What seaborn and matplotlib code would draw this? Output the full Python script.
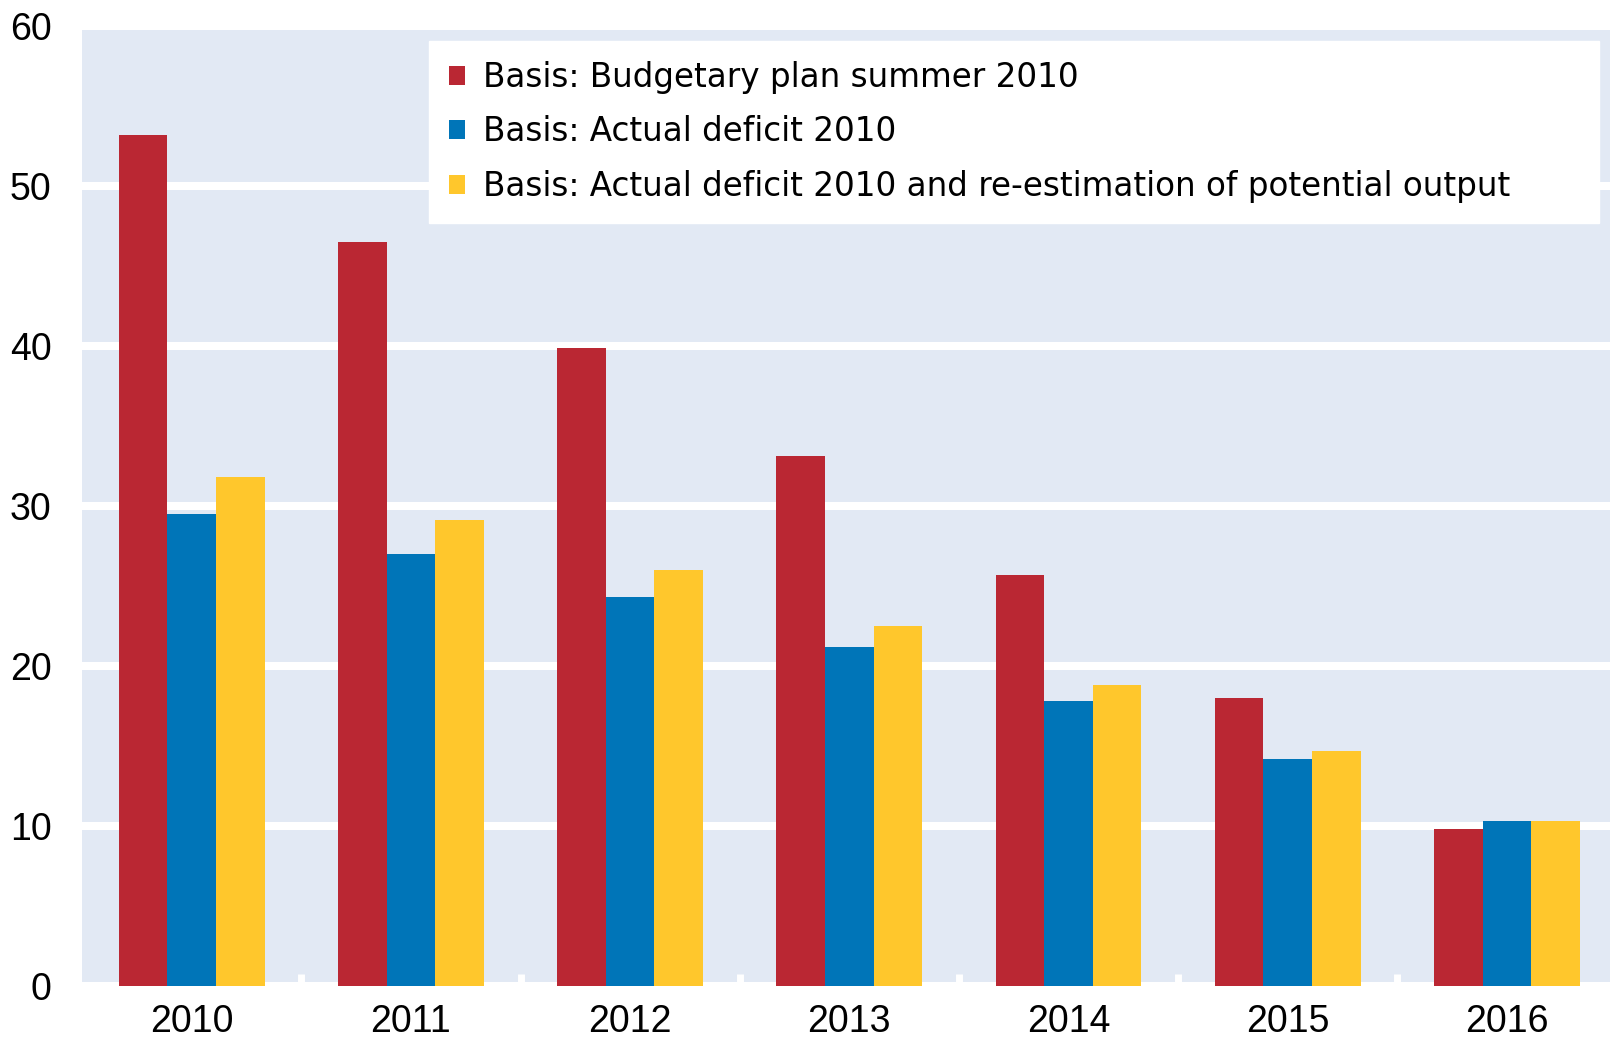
import pandas as pd
import seaborn as sns
import matplotlib.pyplot as plt

years = ["2010", "2011", "2012", "2013", "2014", "2015", "2016"]
series_names = [
    "Basis: Budgetary plan summer 2010",
    "Basis: Actual deficit 2010",
    "Basis: Actual deficit 2010 and re-estimation of potential output",
]
budget_plan = [53.2, 46.5, 39.9, 33.1, 25.7, 18.0, 9.8]
actual_deficit = [29.5, 27.0, 24.3, 21.2, 17.8, 14.2, 10.3]
actual_reestimated = [31.8, 29.1, 26.0, 22.5, 18.8, 14.7, 10.3]
colors = ["#BA2733", "#0075B8", "#FFC72C"]

df = pd.DataFrame({
    "year": years * 3,
    "value": budget_plan + actual_deficit + actual_reestimated,
    "series": [series_names[0]] * 7 + [series_names[1]] * 7 + [series_names[2]] * 7,
})

sns.set_style("white")
plt.rcParams["font.family"] = ["Liberation Sans", "DejaVu Sans"]

fig = plt.figure(figsize=(16.1, 10.38), dpi=100)
ax = fig.add_axes([0.051, 0.05, 0.949, 0.925])
ax.set_facecolor("#E2E9F4")

sns.barplot(data=df, x="year", y="value", hue="series", palette=colors,
            width=0.665, gap=0, linewidth=0, saturation=1, ax=ax, zorder=3)

ax.set_ylim(0, 60)
ax.set_xlim(-0.5, 6.47)
ax.set_yticks(range(0, 61, 10))
ax.grid(axis="y", color="white", linewidth=5.8, zorder=1)
ax.set_axisbelow(True)
for s in ax.spines.values():
    s.set_visible(False)

ax.tick_params(axis="y", left=False, length=0, pad=22, labelsize=27, labelcolor="black")
ax.tick_params(axis="x", which="major", bottom=False, length=0, pad=13, labelsize=27, labelcolor="black")
ax.set_xticks([0.5, 1.5, 2.5, 3.5, 4.5, 5.5], minor=True)
ax.tick_params(axis="x", which="minor", bottom=True, direction="in", length=9, width=5, color="white")
ax.set_xlabel("")
ax.set_ylabel("")

handles, labels = ax.get_legend_handles_labels()
leg = ax.legend(handles, labels, loc="upper left", bbox_to_anchor=(0.227, 0.799, 0.766, 0.185),
                mode="expand", borderaxespad=0, frameon=True, fancybox=False,
                handlelength=0.52, handleheight=0.52, handletextpad=0.55,
                labelspacing=0.66, borderpad=0.6,
                prop={"family": "DejaVu Sans", "size": 23.5})
for t in leg.get_texts():
    t.set_color("black")
leg.get_frame().set_facecolor("white")
leg.get_frame().set_edgecolor("white")
leg.get_frame().set_alpha(1)
leg.set_zorder(5)

fig.savefig("out.png", dpi=100, facecolor="white")
